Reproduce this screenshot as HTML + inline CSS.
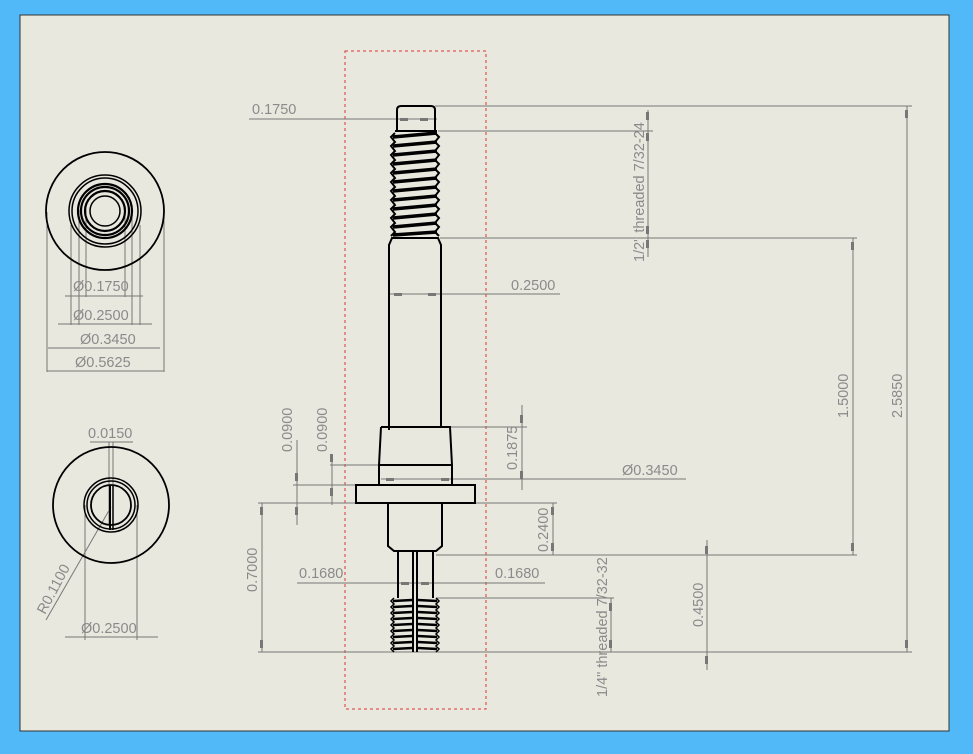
<!DOCTYPE html>
<html><head><style>
html,body{margin:0;padding:0;background:#52b9f9;}
svg{display:block}
text{font-family:"Liberation Sans",sans-serif;font-size:14.5px;fill:#8a8a8a}
</style></head><body>
<svg width="973" height="754" viewBox="0 0 973 754" xmlns="http://www.w3.org/2000/svg">
<rect x="0" y="0" width="973" height="754" fill="#52b9f9"/>
<rect x="20" y="15" width="929" height="716" fill="#e9e8df" stroke="#333" stroke-width="1"/>
<rect x="345" y="51" width="141" height="658" fill="none" stroke="#d33" stroke-width="1" stroke-dasharray="3,3"/>

<g stroke="#777" stroke-width="1" fill="none">
 <line x1="435" y1="106" x2="912" y2="106"/>
 <line x1="907" y1="106" x2="907" y2="652"/>
 <line x1="258" y1="652" x2="912" y2="652"/>
 <line x1="438" y1="131" x2="653" y2="131"/>
 <line x1="648" y1="110" x2="648" y2="257"/>
 <line x1="440" y1="238" x2="857" y2="238"/>
 <line x1="853" y1="238" x2="853" y2="555"/>
 <line x1="436" y1="555" x2="857" y2="555"/>
 <line x1="707" y1="540" x2="707" y2="670"/>
 <line x1="436" y1="598" x2="614" y2="598"/>
 <line x1="611" y1="598" x2="611" y2="652"/>
 <line x1="249" y1="119" x2="437" y2="119"/>
 <line x1="390" y1="294" x2="560" y2="294"/>
 <line x1="450" y1="427" x2="527" y2="427"/>
 <line x1="522" y1="405" x2="522" y2="490"/>
 <line x1="452" y1="479" x2="527" y2="479"/>
 <line x1="381" y1="479" x2="686" y2="479"/>
 <line x1="330" y1="465" x2="379" y2="465"/>
 <line x1="293" y1="485" x2="356" y2="485"/>
 <line x1="258" y1="503" x2="356" y2="503"/>
 <line x1="475" y1="503" x2="557" y2="503"/>
 <line x1="297" y1="440" x2="297" y2="525"/>
 <line x1="332" y1="455" x2="332" y2="505"/>
 <line x1="553" y1="503" x2="553" y2="555"/>
 <line x1="262" y1="503" x2="262" y2="652"/>
 <line x1="297" y1="583" x2="545" y2="583"/>
 <line x1="71" y1="225" x2="71" y2="325"/>
 <line x1="140" y1="225" x2="140" y2="325"/>
 <line x1="86" y1="210" x2="86" y2="297"/>
 <line x1="125" y1="210" x2="125" y2="297"/>
 <line x1="79" y1="210" x2="79" y2="325"/>
 <line x1="132" y1="210" x2="132" y2="325"/>
 <line x1="47" y1="212" x2="47" y2="372"/>
 <line x1="164" y1="212" x2="164" y2="372"/>
 <line x1="65" y1="296" x2="143" y2="296"/>
 <line x1="58" y1="324" x2="152" y2="324"/>
 <line x1="48" y1="348" x2="160" y2="348"/>
 <line x1="47" y1="371" x2="164" y2="371"/>
 <line x1="109" y1="442" x2="109" y2="525"/>
 <line x1="113" y1="442" x2="113" y2="525"/>
 <line x1="90" y1="442" x2="133" y2="442"/>
 <line x1="85" y1="505" x2="85" y2="640"/>
 <line x1="137" y1="505" x2="137" y2="640"/>
 <line x1="65" y1="637" x2="158" y2="637"/>
 <line x1="111" y1="507" x2="46" y2="620"/>
</g>
<g fill="#777">
 <rect x="905" y="110" width="3" height="8"/><rect x="905" y="640" width="3" height="8"/>
 <rect x="851" y="242" width="3" height="8"/><rect x="851" y="543" width="3" height="8"/>
 <rect x="646" y="112" width="3" height="8"/><rect x="646" y="133" width="3" height="8"/>
 <rect x="646" y="226" width="3" height="8"/><rect x="646" y="240" width="3" height="8"/>
 <rect x="705" y="546" width="3" height="8"/><rect x="705" y="656" width="3" height="8"/>
 <rect x="609" y="603" width="3" height="8"/><rect x="609" y="640" width="3" height="8"/>
 <rect x="520" y="415" width="3" height="8"/><rect x="520" y="471" width="3" height="8"/>
 <rect x="551" y="507" width="3" height="8"/><rect x="551" y="543" width="3" height="8"/>
 <rect x="260" y="507" width="3" height="8"/><rect x="260" y="640" width="3" height="8"/>
 <rect x="295" y="473" width="3" height="8"/><rect x="295" y="507" width="3" height="8"/>
 <rect x="330" y="454" width="3" height="8"/><rect x="330" y="488" width="3" height="8"/>
 <rect x="400" y="118" width="8" height="3"/><rect x="420" y="118" width="8" height="3"/>
 <rect x="394" y="293" width="8" height="3"/><rect x="428" y="293" width="8" height="3"/>
 <rect x="386" y="478" width="8" height="3"/><rect x="441" y="478" width="8" height="3"/>
 <rect x="401" y="582" width="8" height="3"/><rect x="421" y="582" width="8" height="3"/>
</g>

<text x="252" y="114">0.1750</text>
<text x="511" y="290">0.2500</text>
<text x="622" y="475">Ø0.3450</text>
<text x="299" y="578">0.1680</text>
<text x="495" y="578">0.1680</text>
<text transform="translate(644,262) rotate(-90)">1/2" threaded 7/32-24</text>
<text transform="translate(848,418) rotate(-90)">1.5000</text>
<text transform="translate(902,418) rotate(-90)">2.5850</text>
<text transform="translate(703,627) rotate(-90)">0.4500</text>
<text transform="translate(607,697) rotate(-90)">1/4" threaded 7/32-32</text>
<text transform="translate(548,552) rotate(-90)">0.2400</text>
<text transform="translate(517,470) rotate(-90)">0.1875</text>
<text transform="translate(292,452) rotate(-90)">0.0900</text>
<text transform="translate(327,452) rotate(-90)">0.0900</text>
<text transform="translate(257,592) rotate(-90)">0.7000</text>
<text x="73" y="291">Ø0.1750</text>
<text x="73" y="320">Ø0.2500</text>
<text x="80" y="344">Ø0.3450</text>
<text x="75" y="367">Ø0.5625</text>
<text x="88" y="438">0.0150</text>
<text x="81" y="633">Ø0.2500</text>
<text transform="translate(45,615) rotate(-62)">R0.1100</text>

<g stroke="#000" stroke-width="2" fill="none">
 <path d="M397,131 L397,110 Q397,106 401,106 L431,106 Q435,106 435,110 L435,131"/>
 <line x1="395" y1="131" x2="437" y2="131"/>
 <path d="M389,430 L389,245 L392,238 L438,238 L441,245 L441,427"/>
 <path d="M452,465 L452,484 M381,427 L379,465 L379,484 M381,427 L450,427 L452,465"/>
 <line x1="379" y1="465" x2="452" y2="465"/>
 <rect x="356" y="485" width="119" height="18"/>
 <path d="M388,503 L388,546 L394,551 L436,551 L442,546 L442,503"/>
 <path d="M398,551 L398,598 M433,551 L433,598 M413,551 L413,652 M417,551 L417,652"/>
</g>
<g stroke="#000" stroke-width="3.5" fill="none">
 <path d="M393,137 L437,133 M393,146 L437,142 M393,155 L437,151 M393,164 L437,160 M393,173 L437,169 M393,182 L437,178 M393,191 L437,187 M393,200 L437,196 M393,209 L437,205 M393,218 L437,214 M393,227 L437,223 M393,235 L437,232"/>
 <path d="M395,133 L391,137 L395,142 L391,146 L395,151 L391,155 L395,160 L391,164 L395,169 L391,173 L395,178 L391,182 L395,187 L391,191 L395,196 L391,200 L395,205 L391,209 L395,214 L391,218 L395,223 L391,227 L395,232 L391,236" stroke-width="2"/>
 <path d="M435,133 L439,137 L435,142 L439,146 L435,151 L439,155 L435,160 L439,164 L435,169 L439,173 L435,178 L439,182 L435,187 L439,191 L435,196 L439,200 L435,205 L439,209 L435,214 L439,218 L435,223 L439,227 L435,232 L439,236" stroke-width="2"/>
</g>
<g stroke="#000" stroke-width="2.5" fill="none">
 <path d="M393,601 L412,600 M393,607 L412,606 M393,613 L412,612 M393,619 L412,618 M393,625 L412,624 M393,631 L412,630 M393,637 L412,636 M393,643 L412,642 M393,649 L412,648"/>
 <path d="M418,600 L437,601 M418,606 L437,607 M418,612 L437,613 M418,618 L437,619 M418,624 L437,625 M418,630 L437,631 M418,636 L437,637 M418,642 L437,643 M418,648 L437,649"/>
 <path d="M394,598 L391,601 L394,604 L391,607 L394,610 L391,613 L394,616 L391,619 L394,622 L391,625 L394,628 L391,631 L394,634 L391,637 L394,640 L391,643 L394,646 L391,649 L394,652" stroke-width="1.5"/>
 <path d="M436,598 L439,601 L436,604 L439,607 L436,610 L439,613 L436,616 L439,619 L436,622 L439,625 L436,628 L439,631 L436,634 L439,637 L436,640 L439,643 L436,646 L439,649 L436,652" stroke-width="1.5"/>
</g>

<g stroke="#000" fill="none">
 <circle cx="105" cy="211" r="59" stroke-width="1.8"/>
 <circle cx="105" cy="211" r="36" stroke-width="1.5"/>
 <circle cx="105" cy="211" r="33" stroke-width="1.5"/>
 <circle cx="105" cy="211" r="27" stroke-width="2.2"/>
 <circle cx="105" cy="211" r="24" stroke-width="2.2"/>
 <circle cx="105" cy="211" r="20" stroke-width="2.2"/>
 <circle cx="105" cy="211" r="15" stroke-width="1.5"/>
</g>
<g stroke="#000" fill="none">
 <circle cx="111" cy="505" r="58" stroke-width="1.8"/>
 <circle cx="111" cy="505" r="27" stroke-width="1.5"/>
 <circle cx="111" cy="505" r="24" stroke-width="1.5"/>
 <circle cx="111" cy="505" r="20" stroke-width="1.8"/>
 <line x1="110" y1="485" x2="110" y2="530" stroke-width="2"/>
 <line x1="113" y1="485" x2="113" y2="530" stroke-width="1.5"/>
</g>
</svg>
</body></html>
